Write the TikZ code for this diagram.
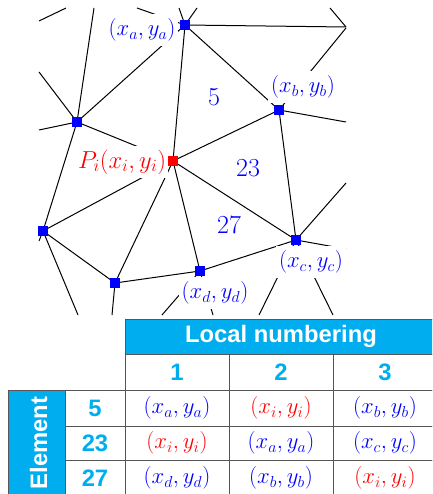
\documentclass[tikz,border=0pt]{standalone}
\usepackage{fix-cm}
\usepackage{fontspec}
\setsansfont{Liberation Sans}
\usepackage{xcolor}
\definecolor{tabcyan}{HTML}{00AEEF}
\definecolor{tabline}{HTML}{555555}
\newcommand{\ptb}[1]{\textcolor{blue}{$(x_#1,y_#1)$}}
\newcommand{\ptr}[1]{\textcolor{red}{$(x_#1,y_#1)$}}
\begin{document}
\begin{tikzpicture}[x=1pt, y=-1pt,
          v/.style={fill=blue, inner sep=0pt, minimum size=9.5pt},
          lab/.style={fill=white, text=blue, font=\fontsize{22.7}{25}\selectfont, inner xsep=3pt, inner ysep=0pt, minimum height=32pt},
          num/.style={text=blue, font=\fontsize{26}{28}\selectfont},
          hd/.style={draw=tabline, line width=1pt, fill=tabcyan, text=white, font=\sffamily\bfseries\fontsize{23.8}{25}\selectfont},
          cell/.style={draw=tabline, line width=1pt, font=\fontsize{22.7}{25}\selectfont, minimum width=104pt, minimum height=#1},
          idx/.style={draw=tabline, line width=1pt, text=tabcyan, font=\sffamily\bfseries\fontsize{23.8}{25}\selectfont, minimum width=#1}]
        \clip (0,0) rectangle (432,494);
        % mesh points
        \node[v] (a) at (185,25) {};
        \node[v] (b) at (279,110) {};
        \node[v] (c) at (296,240) {};
        \node[v] (d) at (200,271) {};
        \node[v] (e) at (115,283) {};
        \node[v] (f) at (43,231) {};
        \node[v] (g) at (77,122) {};
        \node[v, fill=red] (p) at (173,161) {};
        % free ends
        \foreach \n/\x/\y in {t1/39/21, t2/66/8, t3/94/8, t4/137/8, t5/179/8, t6/197/8, t7/330/8,
            r1/346/27, r2/346/28, r3/346/122, r4/346/183, r5/346/249,
            l1/39/72, l2/39/130, l3/39/241,
            u1/78/315, u2/112/315, u3/162/315, u4/213/315, u5/259/315, u6/333/315}
          \coordinate (\n) at (\x,\y);
        \foreach \s/\t in {a/b, a/p, a/g, a/t4, a/t5, a/t6, a/r1, r1/t7, b/r2, b/r3, b/p, b/c,
            g/t3, g/l1, g/l2, g/p, g/f, f/l3, f/p, f/e, f/u1, e/p, e/d, e/u2,
            d/p, d/c, d/u3, d/u4, c/p, c/r4, c/r5, c/u5, c/u6, t1/t2}
          \draw[line width=1pt] (\s)--(\t);
        \node[lab] (la) at (142,30) {$(x_a,y_a)$};
        \node[lab] (lb) at (303,87) {$(x_b,y_b)$};
        \node[lab] (lc) at (311,262) {$(x_c,y_c)$};
        \node[lab] (ld) at (215,293) {$(x_d,y_d)$};
        \node[lab, text=red, font=\fontsize{24.6}{27}\selectfont, inner xsep=2pt] (lp) at (122,162) {$P_i(x_i,y_i)$};
        \node[v] at (a) {};
        \node[v] at (b) {};
        \node[v] at (c) {};
        \node[v] at (d) {};
        \node[v, fill=red] at (p) {};
        \node[num] (n5) at (214,97) {5};
        \node[num] (n23) at (248,168) {23};
        \node[num] (n27) at (229,225) {27};
        % table
        \node[hd, minimum width=312pt, minimum height=35pt] (local) at (281,336.5) {Local numbering};
        \node[hd, minimum width=57pt, minimum height=106pt] (elem) at (36.5,443) {};
        \node[hd, rotate=90, draw=none, fill=none] (elemt) at ([xshift=2pt]elem.center) {Element};
        \foreach \x/\n in {177/1, 281/2, 385/3}
          \node[idx=104pt, minimum height=36pt] (c\n) at (\x,372) {\n};
        \foreach \y/\h/\n/\pa/\pb/\pc in {408/36pt/5/\ptb{a}/\ptr{i}/\ptb{b}, 443/34pt/23/\ptr{i}/\ptb{a}/\ptb{c}, 478/36pt/27/\ptb{d}/\ptb{b}/\ptr{i}} {
          \node[idx=60pt, minimum height=\h] (r\n) at (95,\y) {\n};
          \node[cell=\h] (r\n a) at (177,\y) {\pa};
          \node[cell=\h] (r\n b) at (281,\y) {\pb};
          \node[cell=\h] (r\n c) at (385,\y) {\pc};
        }
      \end{tikzpicture}
\end{document}
